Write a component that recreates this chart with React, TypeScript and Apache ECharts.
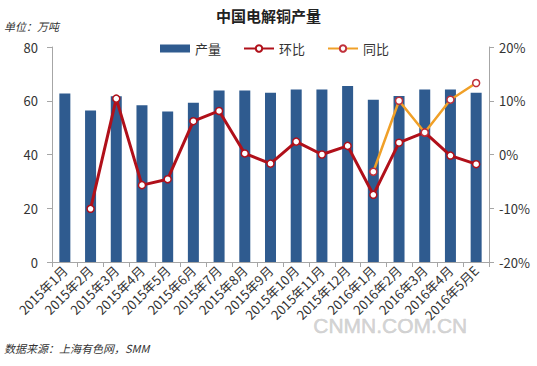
import React, { useEffect, useRef } from "react";
import * as echarts from "echarts";

const categories = [
  "2015年1月", "2015年2月", "2015年3月", "2015年4月", "2015年5月", "2015年6月",
  "2015年7月", "2015年8月", "2015年9月", "2015年10月", "2015年11月", "2015年12月",
  "2016年1月", "2016年2月", "2016年3月", "2016年4月", "2016年5月E",
];
const output = [62.7, 56.4, 61.7, 58.3, 56.0, 59.3, 63.8, 63.8, 63.0, 64.2, 64.2, 65.5, 60.4, 61.8, 64.2, 64.2, 63.0];
const mom = [null, -10.1, 10.4, -5.7, -4.6, 6.2, 8.1, 0.2, -1.7, 2.4, 0.0, 1.6, -7.5, 2.2, 4.1, -0.2, -1.8];
const yoy = [null, null, null, null, null, null, null, null, null, null, null, null, -3.2, 10.0, 4.1, 10.2, 13.3];
const leftTicks = { min: 0, max: 80, interval: 20 };
const rightTicks = { min: -20, max: 20, interval: 10 };

const FONT = "'Noto Sans CJK SC', 'Noto Sans', sans-serif";

export default function App() {
  const ref = useRef<HTMLDivElement>(null);
  useEffect(() => {
    const chart = echarts.init(ref.current!, null, { renderer: "svg" });
    chart.setOption({
      animation: false,
      backgroundColor: "#ffffff",
      textStyle: { fontFamily: FONT },
      title: {
        text: "中国电解铜产量",
        left: "center",
        top: 3,
        textStyle: { fontSize: 15, fontWeight: "bold", color: "#222", fontFamily: FONT },
      },
      legend: {
        top: 37,
        left: 155,
        itemGap: 22,
        itemWidth: 30,
        itemHeight: 8,
        textStyle: { fontSize: 13, color: "#333", fontFamily: FONT },
        data: [
          { name: "产量", icon: "rect" },
          { name: "环比" },
          { name: "同比" },
        ],
      },
      grid: { left: 52, right: 48, top: 47, bottom: 104, containLabel: false, outerBoundsMode: "none" },
      xAxis: {
        type: "category",
        data: categories,
        axisLine: { lineStyle: { color: "#a6a6a6", width: 1 } },
        axisTick: { show: true, alignWithLabel: false, length: 5, lineStyle: { color: "#a6a6a6" } },
        axisLabel: { rotate: 45, interval: 0, fontSize: 13, color: "#333", margin: 6, fontFamily: FONT },
      },
      yAxis: [
        {
          type: "value",
          min: leftTicks.min,
          max: leftTicks.max,
          interval: leftTicks.interval,
          axisLine: { show: true, lineStyle: { color: "#a6a6a6" } },
          axisTick: { show: true, length: 5, lineStyle: { color: "#a6a6a6" } },
          axisLabel: { fontSize: 13, color: "#333", margin: 14, fontFamily: FONT },
          splitLine: { show: false },
        },
        {
          type: "value",
          min: rightTicks.min,
          max: rightTicks.max,
          interval: rightTicks.interval,
          position: "right",
          axisLine: { show: true, lineStyle: { color: "#a6a6a6" } },
          axisTick: { show: true, length: 5, lineStyle: { color: "#a6a6a6" } },
          axisLabel: { fontSize: 13, color: "#333", margin: 10, formatter: "{value}%", fontFamily: FONT },
          splitLine: { show: false },
        },
      ],
      series: [
        {
          name: "产量",
          type: "bar",
          data: output,
          barWidth: 11,
          itemStyle: { color: "#2f5b8f" },
        },
        {
          name: "环比",
          type: "line",
          yAxisIndex: 1,
          data: mom,
          symbol: "circle",
          symbolSize: 7,
          lineStyle: { color: "#b0101a", width: 3 },
          itemStyle: { color: "#ffffff", borderColor: "#b0101a", borderWidth: 1.5 },
          z: 3,
        },
        {
          name: "同比",
          type: "line",
          yAxisIndex: 1,
          data: yoy,
          symbol: "circle",
          symbolSize: 7,
          lineStyle: { color: "#f0a028", width: 2.5 },
          itemStyle: { color: "#ffffff", borderColor: "#c0303a", borderWidth: 1.5 },
          z: 4,
        },
      ],
      graphic: [
        {
          type: "text",
          left: 4,
          top: 20,
          style: { text: "单位：万吨", font: `italic 11px ${FONT}`, fill: "#333" },
        },
        {
          type: "text",
          left: 4,
          top: 342,
          style: { text: "数据来源：上海有色网，SMM", font: `italic 11px ${FONT}`, fill: "#333" },
        },
        {
          type: "text",
          left: 313,
          top: 315,
          z: 100,
          style: {
            text: "CNMN.COM.CN",
            font: "21px 'Liberation Sans', Arial, sans-serif",
            fill: "rgba(205,205,205,0.85)",
            stroke: "rgba(170,170,170,0.6)",
            lineWidth: 0.5,
          },
        },
      ],
    });
    return () => chart.dispose();
  }, []);
  return <div ref={ref} style={{ width: 537, height: 366, position: "absolute", left: 0, top: 0 }} />;
}
